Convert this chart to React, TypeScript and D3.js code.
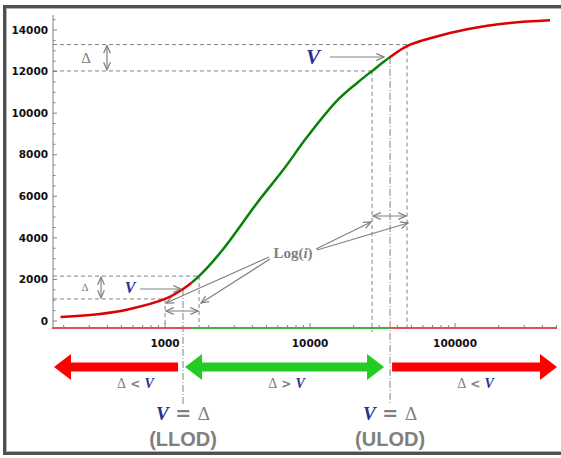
import React from 'react';
import * as d3 from 'd3';

// curve: concentration (log axis) vs response
const concentration = [190, 356, 574, 1000, 1330, 1715, 2513, 4310, 6513, 9535, 15360, 21090, 26780, 35640, 46650, 70500, 121000, 239000, 452000];
const response = [190, 340, 580, 1060, 1540, 2160, 3450, 5680, 7260, 8850, 10600, 11450, 12030, 12700, 13230, 13640, 14040, 14340, 14470];

const yTicks = [0, 2000, 4000, 6000, 8000, 10000, 12000, 14000];
const xTickLabels = [1000, 10000, 100000];

// limits of detection and the bands around them
const llod = 1330;
const ulod = 35640;
const lowSwitch = 1530;
const lowInterval = [1000, 1715];
const highInterval = [26780, 46650];
const lowDelta = [1060, 2160];
const highDelta = [12030, 13300];
const lowV = 1540;
const highV = 12700;

const W = 561, H = 458;
const axisY = 328;
const GRAY = '#808080';
const BLUE = '#2b2f93';
const SERIF = '"Liberation Serif", "DejaVu Serif", serif';
const SANS = '"DejaVu Sans", sans-serif';

const x = d3.scaleLog().domain([166, 505000]).range([52, 557]);
const y = d3.scaleLinear().domain([0, 14000]).range([321, 30]);

const blockArrow = (x1: number, x2: number, cy: number, left: boolean, right: boolean) => {
    const s = 4.5, h = 13, L = 17;
    const a = left ? x1 + L : x1;
    const b = right ? x2 - L : x2;
    const pts: [number, number][] = [];
    pts.push([a, cy - s]);
    pts.push([b, cy - s]);
    if (right) { pts.push([b, cy - h]); pts.push([x2, cy]); pts.push([b, cy + h]); }
    pts.push([b, cy + s]);
    pts.push([a, cy + s]);
    if (left) { pts.push([a, cy + h]); pts.push([x1, cy]); pts.push([a, cy - h]); }
    return pts.map(p => p.join(',')).join(' ');
};

const DeltaV = ({ cx, cy, op }: { cx: number; cy: number; op: string }) => (
    <text x={cx} y={cy} textAnchor="middle" fontSize={14}>
        <tspan fontFamily={SERIF} fill={GRAY}>Δ</tspan>
        <tspan fontFamily={SANS} fontWeight="bold" fill={GRAY} fontSize={12}> {op} </tspan>
        <tspan fontFamily={SERIF} fontStyle="italic" fontWeight="bold" fill={BLUE}>V</tspan>
    </text>
);

const App = () => {
    const pts = concentration.map((c, i) => [x(c), y(response[i])] as [number, number]);
    const line = d3.line().curve(d3.curveCatmullRom.alpha(0.5))(pts) || '';

    const xMinor: number[] = [];
    for (let e = 2; e <= 5; e++) for (let m = 1; m <= 9; m++) {
        const v = m * Math.pow(10, e);
        if (v >= 166 && v <= 505000) xMinor.push(v);
    }
    const yMinor = d3.range(0, 14501, 500);

    const xl = x(llod), xu = x(ulod), xs = x(lowSwitch);
    const [x0, x1] = x.range();
    const dash = '4,3';
    const dashDot = '7,2,1,2';

    return (
        <svg width={W} height={H} style={{ position: 'absolute', left: 0, top: 0, background: '#fff' }}>
            <defs>
                <marker id="ah" viewBox="0 0 10 10" refX="9" refY="5" markerWidth="8" markerHeight="8" orient="auto-start-reverse">
                    <path d="M1,1.5 L9,5 L1,8.5" fill="none" stroke={GRAY} strokeWidth="1.3" />
                </marker>
                <clipPath id="cRed1"><rect x={0} y={0} width={xs} height={H} /></clipPath>
                <clipPath id="cGreen"><rect x={xs} y={0} width={xu - xs} height={H} /></clipPath>
                <clipPath id="cRed2"><rect x={xu} y={0} width={W - xu} height={H} /></clipPath>
            </defs>

            {/* frame */}
            <rect x={4.5} y={6.5} width={620} height={447} fill="none" stroke="#505050" strokeWidth={3} />
            <rect x={6.5} y={8.5} width={620} height={443} fill="none" stroke="#b0b0b0" strokeWidth={1} />

            {/* dashed guides */}
            <g stroke={GRAY} strokeWidth={1} strokeDasharray={dash} fill="none">
                <line x1={53} x2={x(highInterval[1])} y1={y(highDelta[1])} y2={y(highDelta[1])} />
                <line x1={53} x2={x(highInterval[0])} y1={y(highDelta[0])} y2={y(highDelta[0])} />
                <line x1={x(highInterval[0])} x2={x(highInterval[0])} y1={y(highDelta[0])} y2={axisY + 4} />
                <line x1={x(highInterval[1])} x2={x(highInterval[1])} y1={y(highDelta[1])} y2={axisY + 4} />
                <line x1={53} x2={x(lowInterval[1])} y1={y(lowDelta[1])} y2={y(lowDelta[1])} />
                <line x1={53} x2={x(lowInterval[0])} y1={y(lowDelta[0])} y2={y(lowDelta[0])} />
                <line x1={x(lowInterval[0])} x2={x(lowInterval[0])} y1={y(lowDelta[0])} y2={axisY} />
                <line x1={x(lowInterval[1])} x2={x(lowInterval[1])} y1={y(lowDelta[1])} y2={axisY} />
            </g>
            <g stroke={GRAY} strokeWidth={1} strokeDasharray={dashDot} fill="none">
                <line x1={xl} x2={xl} y1={y(lowV)} y2={405} />
                <line x1={xu} x2={xu} y1={y(highV)} y2={405} />
            </g>

            {/* y axis */}
            <line x1={53} x2={53} y1={15} y2={axisY} stroke={GRAY} strokeWidth={1} />
            {yMinor.map(v => (
                <line key={'ym' + v} x1={53} x2={v % 2000 === 0 ? 57 : 55.5} y1={y(v)} y2={y(v)} stroke={GRAY} strokeWidth={1} />
            ))}
            {yTicks.map(v => (
                <text key={'yt' + v} x={48} y={y(v)} dy="0.35em" textAnchor="end" fontFamily={SANS} fontWeight="bold" fontSize={10.5} fill="#111">{v}</text>
            ))}

            {/* x axis, coloured by region */}
            <line x1={x0} x2={xs} y1={axisY} y2={axisY} stroke="#e05050" strokeWidth={2} />
            <line x1={xs} x2={xu} y1={axisY} y2={axisY} stroke="#44b044" strokeWidth={2} />
            <line x1={xu} x2={x1} y1={axisY} y2={axisY} stroke="#e05050" strokeWidth={2} />
            {xMinor.map(v => {
                const major = xTickLabels.includes(v);
                return <line key={'xm' + v} x1={x(v)} x2={x(v)} y1={axisY - 1} y2={axisY - (major ? 5 : 3)} stroke={GRAY} strokeWidth={1} />;
            })}
            {xTickLabels.map(v => (
                <text key={'xt' + v} x={x(v)} y={347} textAnchor="middle" fontFamily={SANS} fontWeight="bold" fontSize={10.5} fill="#111">{v}</text>
            ))}

            {/* calibration curve */}
            <path d={line} fill="none" stroke="#dd0000" strokeWidth={2.5} clipPath="url(#cRed1)" />
            <path d={line} fill="none" stroke="#0a820a" strokeWidth={2.5} clipPath="url(#cGreen)" />
            <path d={line} fill="none" stroke="#dd0000" strokeWidth={2.5} clipPath="url(#cRed2)" />

            {/* grey annotation arrows */}
            <g stroke={GRAY} strokeWidth={1.2} fill="none" markerEnd="url(#ah)">
                <line x1={107} x2={107} y1={y(highDelta[0]) - 1} y2={y(highDelta[1]) + 1} markerStart="url(#ah)" />
                <line x1={101} x2={101} y1={y(lowDelta[0]) - 1} y2={y(lowDelta[1]) + 1} markerStart="url(#ah)" />
                <line x1={330} x2={xu - 6} y1={y(highV)} y2={y(highV)} />
                <line x1={140} x2={xl - 2} y1={y(lowV)} y2={y(lowV)} />
                <line x1={x(lowInterval[0]) + 1} x2={x(lowInterval[1]) - 1} y1={311} y2={311} markerStart="url(#ah)" />
                <line x1={x(highInterval[0]) + 1} x2={x(highInterval[1]) - 1} y1={216} y2={216} markerStart="url(#ah)" />
                <line x1={316} y1={249} x2={x(highInterval[0]) - 1} y2={222} />
                <line x1={317} y1={250} x2={x(highInterval[1]) + 1} y2={223} />
                <line x1={269} y1={257} x2={x(lowInterval[0]) + 1} y2={303} />
                <line x1={270} y1={259} x2={x(lowInterval[1]) + 2} y2={303} />
            </g>

            {/* labels on the chart */}
            <text x={86} y={58} dy="0.35em" textAnchor="middle" fontFamily={SERIF} fontSize={15} fill={GRAY}>Δ</text>
            <text x={85} y={287} dy="0.35em" textAnchor="middle" fontFamily={SERIF} fontSize={11} fill={GRAY}>Δ</text>
            <text x={313} y={57} dy="0.35em" textAnchor="middle" fontFamily={SERIF} fontStyle="italic" fontWeight="bold" fontSize={21} fill={BLUE}>V</text>
            <text x={130} y={287} dy="0.35em" textAnchor="middle" fontFamily={SERIF} fontStyle="italic" fontWeight="bold" fontSize={16} fill={BLUE}>V</text>
            <text x={293} y={253} dy="0.35em" textAnchor="middle" fontFamily={SERIF} fontWeight="bold" fontSize={15} fill={GRAY}>
                Log(<tspan fontStyle="italic">i</tspan>)
            </text>

            {/* region arrows below the axis */}
            <polygon points={blockArrow(x0 + 2, xl - 5, 367, true, false)} fill="#ff0000" />
            <polygon points={blockArrow(xl + 2, xu - 6, 367, true, true)} fill="#22cc22" />
            <polygon points={blockArrow(xu + 2, x1, 367, false, true)} fill="#ff0000" />
            <DeltaV cx={(x0 + xl) / 2 + 18} cy={388} op="<" />
            <DeltaV cx={(xl + xu) / 2} cy={388} op=">" />
            <DeltaV cx={(xu + x1) / 2 + 2} cy={388} op="<" />

            {[xl, xu].map((cx, i) => (
                <g key={'lod' + i}>
                    <text x={cx} y={420} textAnchor="middle" fontSize={19}>
                        <tspan fontFamily={SERIF} fontStyle="italic" fontWeight="bold" fill={BLUE}>V</tspan>
                        <tspan fontFamily={SANS} fontWeight="bold" fill={GRAY}> = </tspan>
                        <tspan fontFamily={SERIF} fill={GRAY}>Δ</tspan>
                    </text>
                    <text x={cx} y={446} textAnchor="middle" fontFamily='"Liberation Sans", Arial, sans-serif' fontWeight="bold" fontSize={20} fill={GRAY}>
                        {i === 0 ? '(LLOD)' : '(ULOD)'}
                    </text>
                </g>
            ))}
        </svg>
    );
};

export default App;
